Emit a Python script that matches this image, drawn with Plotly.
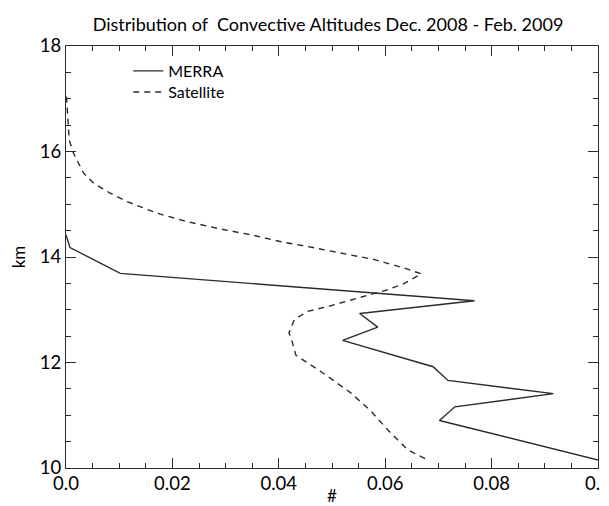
import plotly.graph_objects as go

merra_x = [0.0, 0.00075, 0.0102, 0.0768, 0.0552, 0.0586, 0.052, 0.069, 0.0718, 0.0916, 0.0731, 0.0702, 0.1001]
merra_y = [14.42, 14.18, 13.69, 13.17, 12.93, 12.67, 12.42, 11.92, 11.66, 11.41, 11.16, 10.90, 10.15]

sat_x = [0.0001, 0.0003, 0.0006, 0.0014, 0.0033, 0.0052, 0.0083, 0.0115, 0.0171, 0.0228, 0.0291,
         0.0353, 0.0404, 0.0464, 0.0523, 0.058, 0.0636, 0.0668, 0.0636, 0.0605, 0.0548, 0.0492,
         0.0454, 0.0429, 0.0419, 0.0423, 0.0432, 0.0479, 0.0536, 0.0574, 0.0605, 0.0643, 0.0681]
sat_y = [17.04, 16.60, 16.22, 15.97, 15.59, 15.40, 15.21, 15.05, 14.83, 14.67, 14.53,
         14.41, 14.29, 14.18, 14.06, 13.95, 13.79, 13.68, 13.50, 13.38, 13.22, 13.06,
         12.97, 12.81, 12.56, 12.47, 12.14, 11.83, 11.42, 11.07, 10.72, 10.34, 10.15]

x_tickvals = [0.0, 0.02, 0.04, 0.06, 0.08, 0.1]
x_ticktext = ["0.0", "0.02", "0.04", "0.06", "0.08", "0.1"]
y_tickvals = [10, 12, 14, 16, 18]

title_text = "Distribution of  Convective Altitudes Dec. 2008 - Feb. 2009"
FONT = "Lato, Liberation Sans, sans-serif"
INK = "#2b2b2b"
TXT = "#000000"

fig = go.Figure()
fig.add_trace(go.Scatter(x=merra_x, y=merra_y, mode="lines", name="MERRA",
                         line=dict(color=INK, width=1.4), legend="legend"))
fig.add_trace(go.Scatter(x=sat_x, y=sat_y, mode="lines", name="Satellite",
                         line=dict(color=INK, width=1.4, dash="6px,5px"), legend="legend2"))

axis_common = dict(showline=True, linecolor=INK, linewidth=1.3, mirror="ticks",
                   ticks="inside", ticklen=10, tickwidth=1.2, tickcolor=INK,
                   showgrid=False, zeroline=False, automargin=False,
                   ticklabeloverflow="allow",
                   tickfont=dict(family=FONT, size=18.5, color=TXT))

fig.update_xaxes(range=[0, 0.1], tickvals=x_tickvals, ticktext=x_ticktext,
                 minor=dict(dtick=0.005, ticks="inside", ticklen=5, tickwidth=1.1, tickcolor=INK),
                 title=dict(text="#", font=dict(family=FONT, size=17, color=TXT), standoff=0),
                 ticklabelstandoff=-1,
                 **axis_common)
fig.update_yaxes(range=[10, 18], tickvals=y_tickvals,
                 minor=dict(dtick=0.5, ticks="inside", ticklen=5, tickwidth=1.1, tickcolor=INK),
                 title=dict(text="km", font=dict(family=FONT, size=17, color=TXT), standoff=18),
                 **axis_common)

leg_common = dict(xanchor="left", yanchor="top", bgcolor="rgba(0,0,0,0)", borderwidth=0,
                  itemwidth=30, font=dict(family=FONT, size=16, color=TXT))

# the page body adds an 8px offset, so the figure is sized to end at the window edges
fig.update_layout(
    width=601, height=498,
    margin=dict(l=58, r=11, t=38, b=38),
    paper_bgcolor="white", plot_bgcolor="white",
    title=dict(text=title_text, x=0.5325, xanchor="center", y=0.966, yanchor="middle",
               font=dict(family=FONT, size=18, color=TXT)),
    legend=dict(x=0.117, y=0.981, **leg_common),
    legend2=dict(x=0.117, y=0.931, **leg_common),
    showlegend=True,
)

fig.write_html("out.html")
